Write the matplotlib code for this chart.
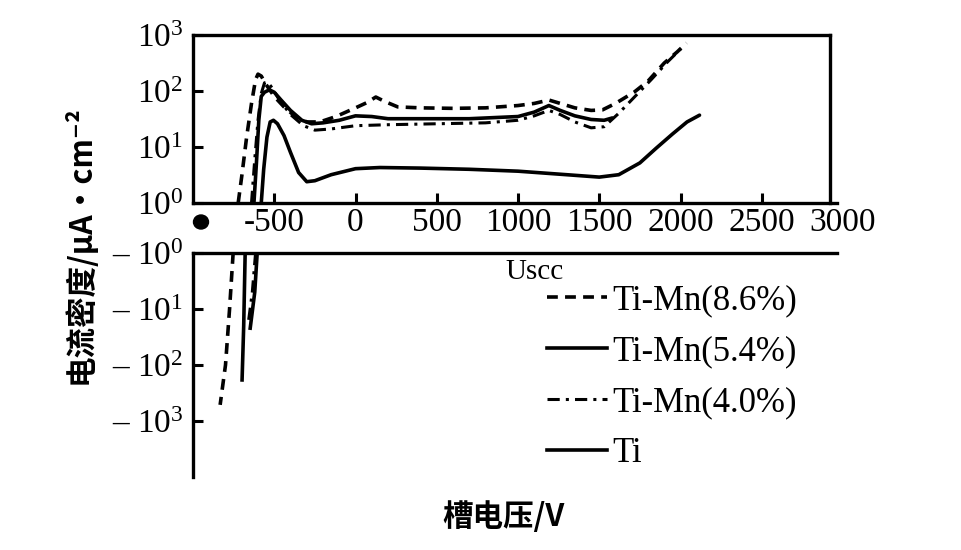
import numpy as np
import matplotlib
matplotlib.use('Agg')
import matplotlib.pyplot as plt
from matplotlib.patches import Ellipse
from matplotlib.lines import Line2D

plt.rcParams['font.family'] = ['Liberation Serif', 'DejaVu Serif']
plt.rcParams['mathtext.fontset'] = 'custom'
plt.rcParams['mathtext.rm'] = 'Liberation Serif'
plt.rcParams['mathtext.it'] = 'Liberation Serif:italic'

# anodic branch (upper panel), x in V, current density in uA/cm2
mn86_x = [-722, -700, -670, -640, -615, -600, -580, -550, -500, -440, -370, -300, -220, -120, 0, 70, 125, 180, 260,
          400, 600, 800, 1000, 1100, 1190, 1260, 1350, 1450, 1520, 1600, 1716, 1800, 1900, 1980, 2037]
mn86_y = [1, 3, 15, 60, 160, 200, 185, 130, 80, 52, 35, 28, 28, 35, 50, 62, 78, 65, 52,
          50, 49, 50, 55, 60, 69, 60, 50, 45, 46, 60, 96, 150, 316, 500, 720]

mn54_x = [-625, -610, -595, -580, -560, -530, -500, -460, -400, -330, -270, -200, -100, 0, 100, 200, 400, 700,
          1000, 1100, 1190, 1260, 1350, 1450, 1530, 1580]
mn54_y = [1, 5, 30, 80, 95, 105, 95, 70, 45, 30, 26, 27, 30, 36, 35, 32, 32, 32,
          35, 42, 55, 45, 36, 31, 30, 33]

mn40_x = [-640, -620, -600, -580, -560, -540, -510, -470, -400, -320, -250, -150, 0, 200, 500, 800, 1000, 1100,
          1190, 1260, 1350, 1450, 1530, 1620, 1720, 1820, 1920, 2000]
mn40_y = [1, 6, 30, 90, 140, 145, 110, 70, 38, 24, 20, 21, 24, 25, 26, 27, 30, 36,
          45, 38, 28, 22, 23, 40, 80, 160, 330, 560]

ti_x = [-580, -565, -545, -525, -505, -480, -440, -400, -350, -300, -250, -150, 0, 150, 400, 700, 1000, 1300,
        1500, 1620, 1750, 1850, 1950, 2040, 2117]
ti_y = [1, 4, 15, 28, 30, 26, 16, 8, 3.5, 2.4, 2.5, 3.2, 4.1, 4.3, 4.2, 4.0, 3.7, 3.2,
        2.9, 3.2, 5.2, 9.5, 17, 28, 37]

# cathodic branch (lower panel), magnitude of negative current
mn86_cx = [-753, -775, -800, -833]
mn86_cy = [1, 10, 100, 515]
mn54_cx = [-605, -620, -648]
mn54_cy = [1, 5, 22]
mn40_cx = [-615, -635, -660]
mn40_cy = [1, 5, 18]
ti_cx = [-679, -688, -698]
ti_cy = [1, 20, 185]

labels = ['Ti-Mn(8.6%)', 'Ti-Mn(5.4%)', 'Ti-Mn(4.0%)', 'Ti']
x_ticks = [-500, 0, 500, 1000, 1500, 2000, 2500, 3000]
y_ticks = [1, 10, 100, 1000]

W, H = 961, 550
fig = plt.figure(figsize=(9.61, 5.5), dpi=100)

styles = [dict(ls=(0, (3, 2)), lw=2.6), dict(ls='-', lw=2.6),
          dict(ls=(0, (4, 2, 1, 2)), lw=2.2), dict(ls='-', lw=2.6)]

ax = fig.add_axes([193 / W, 1 - 203 / H, (843 - 193) / W, (203 - 35) / H])
for xs, ys, st in zip([mn86_x, mn54_x, mn40_x, ti_x], [mn86_y, mn54_y, mn40_y, ti_y], styles):
    ax.plot(xs, ys, color='k', solid_capstyle='round', **st)
ax.set_yscale('log')
ax.set_xlim(-1000, 3000)
ax.set_ylim(1, 1000)
ax.set_xticks(x_ticks)
ax.set_xticklabels([str(v) for v in x_ticks])
ax.set_yticks(y_ticks)
ax.set_yticklabels(['$10^{%d}$' % i for i in range(4)])
ax.minorticks_off()
ax.tick_params(direction='in', length=7, width=2.2, labelsize=24, pad=3)
ax.tick_params(axis='y', pad=7)
ax.xaxis.get_major_ticks()[-1].tick1line.set_visible(False)
for s in ax.spines.values():
    s.set_linewidth(2.4)
ax.spines['right'].set_position(('data', 2920))
ax.spines['top'].set_bounds(-1000, 2920)
ax.spines['bottom'].set_bounds(-1000, 2960)
ax.spines['right'].set_bounds(1, 1000)

axl = fig.add_axes([193 / W, 1 - 477 / H, (843 - 193) / W, (477 - 253) / H])
for xs, ys, st in zip([mn86_cx, mn54_cx, mn40_cx, ti_cx], [mn86_cy, mn54_cy, mn40_cy, ti_cy], styles):
    axl.plot(xs, ys, color='k', **st)
axl.set_yscale('log')
axl.set_xlim(-1000, 3000)
axl.set_ylim(1e4, 1)
axl.set_xticks([])
axl.set_yticks(y_ticks)
axl.set_yticklabels(['– $10^{%d}$' % i for i in range(4)])
axl.minorticks_off()
axl.tick_params(direction='in', length=7, width=2.2, labelsize=24, pad=7)
axl.spines['right'].set_visible(False)
axl.spines['bottom'].set_visible(False)
axl.spines['left'].set_linewidth(2.4)
axl.spines['top'].set_linewidth(2.4)
axl.spines['top'].set_bounds(-1000, 2960)

handles = [Line2D([], [], color='k', **st) for st in styles]
axl.legend(handles, labels, loc='upper left', bbox_to_anchor=(547 / W, 1 - 284 / H),
           bbox_transform=fig.transFigure, frameon=False, fontsize=25,
           handlelength=1.73, handletextpad=0.15, labelspacing=0.52,
           borderpad=0, borderaxespad=0)
fig.text(505 / W, 1 - 272 / H, 'Uscc', fontsize=21, va='center', ha='left')

fig.patches.append(Ellipse((201 / W, 1 - 222 / H), 15 / W, 14 / H, transform=fig.transFigure,
                           color='k', zorder=5))

fig.text(80 / W, 1 - 245 / H, '电流密度/μA·cm⁻²', rotation=90, ha='center', va='center',
         fontsize=22, fontweight='bold', family=['Noto Sans CJK SC', 'DejaVu Sans'])
fig.text(503 / W, 1 - 517 / H, '槽电压/V', ha='center', va='center',
         fontsize=22, fontweight='bold', family=['Noto Sans CJK SC', 'DejaVu Sans'])

fig.savefig('out.png', dpi=100)
